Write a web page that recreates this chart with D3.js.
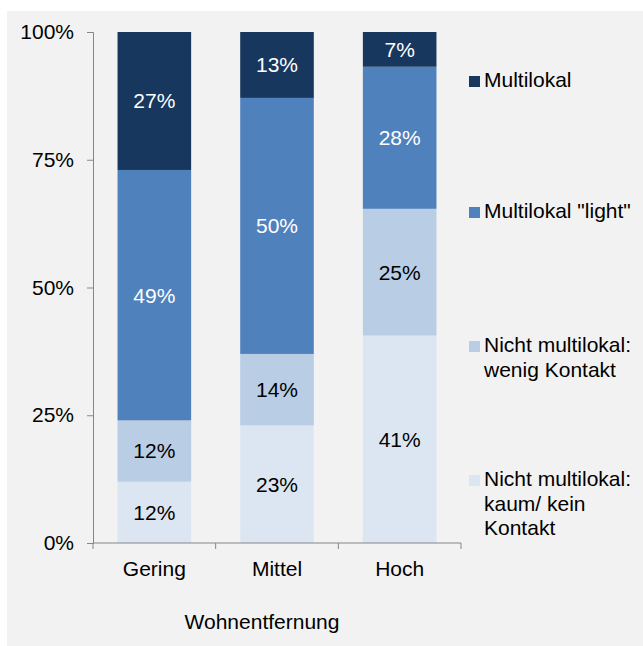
<!DOCTYPE html>
<html>
<head>
<meta charset="utf-8">
<script src="https://cdn.jsdelivr.net/npm/d3@7"></script>
<style>
  html, body { margin: 0; padding: 0; background: #fff; }
  svg { display: block; font-family: "Liberation Sans", Arial, sans-serif; }
</style>
</head>
<body>
<script>
// data (percent of each bar)
const categories = ["Gering", "Mittel", "Hoch"]
const seriesNames = ["Nicht multilokal: kaum/ kein Kontakt", "Nicht multilokal: wenig Kontakt", "Multilokal \"light\"", "Multilokal"]
const kaumKein = [12.0, 23.0, 40.6]
const wenig = [12.0, 14.0, 24.8]
const light = [49.0, 50.1, 27.8]
const multilokal = [27.0, 12.9, 6.8]
const yTicks = [0, 25, 50, 75, 100]
const colors = ["#dce6f2", "#b9cde5", "#4f81bd", "#17375e"]
const labelColors = ["#000", "#000", "#fff", "#fff"]
const legendLines = [
  ["Multilokal"],
  ["Multilokal \"light\""],
  ["Nicht multilokal:", "wenig Kontakt"],
  ["Nicht multilokal:", "kaum/ kein", "Kontakt"]
]
const axisTitle = "Wohnentfernung"

let svgwidth = 643
let svgheight = 646
let fs = 21

let svg = d3.select(document.body)
  .append('svg')
    .attr('width', svgwidth)
    .attr('height', svgheight)

svg.append('rect')
  .attr('x', 7)
  .attr('y', 11)
  .attr('width', svgwidth - 7)
  .attr('height', svgheight - 11)
  .attr('fill', '#f2f2f2')

const rows = categories.map((c, i) => ({
  cat: c, k0: kaumKein[i], k1: wenig[i], k2: light[i], k3: multilokal[i]
}))
const stack = d3.stack().keys(["k0", "k1", "k2", "k3"])(rows)

const x = d3.scaleBand().domain(categories).range([93, 461]).paddingInner(0.4).paddingOuter(0.2)
const y = d3.scaleLinear().domain([0, 100]).range([543, 32])

// bars
svg.append('g')
  .selectAll('g')
  .data(stack)
  .join('g')
    .attr('fill', (d, i) => colors[i])
  .selectAll('rect')
  .data(d => d)
  .join('rect')
    .attr('x', d => x(d.data.cat))
    .attr('width', x.bandwidth())
    .attr('y', d => y(d[1]))
    .attr('height', d => y(d[0]) - y(d[1]))

// segment labels
svg.append('g')
  .attr('font-size', fs)
  .attr('text-anchor', 'middle')
  .selectAll('g')
  .data(stack)
  .join('g')
    .attr('fill', (d, i) => labelColors[i])
  .selectAll('text')
  .data(d => d)
  .join('text')
    .attr('x', d => x(d.data.cat) + x.bandwidth() / 2)
    .attr('y', d => y((d[0] + d[1]) / 2))
    .attr('dy', '0.35em')
    .text(d => Math.round(d[1] - d[0]) + '%')

// y axis
const yAxis = svg.append('g')
  .attr('transform', 'translate(93,0)')
  .call(d3.axisLeft(y).tickValues(yTicks).tickFormat(d => d + '%').tickSize(6).tickPadding(13))
yAxis.selectAll('line, path').attr('stroke', '#868686')
yAxis.selectAll('text').attr('font-size', fs).attr('fill', '#000')
  .attr('font-family', '"Liberation Sans", Arial, sans-serif')

// x axis with ticks on band edges
const xAxis = svg.append('g')
  .attr('transform', 'translate(0,543)')
xAxis.append('line')
  .attr('x1', 93).attr('x2', 461)
  .attr('stroke', '#868686')
const edges = categories.map(c => x(c) - x.step() * x.paddingInner() / 2)
edges.push(461)
xAxis.selectAll('line.tk')
  .data(edges)
  .join('line')
    .attr('class', 'tk')
    .attr('x1', d => d).attr('x2', d => d)
    .attr('y1', 0).attr('y2', 6)
    .attr('stroke', '#868686')
xAxis.selectAll('text')
  .data(categories)
  .join('text')
    .attr('x', d => x(d) + x.bandwidth() / 2)
    .attr('y', 33)
    .attr('text-anchor', 'middle')
    .attr('font-size', fs)
    .text(d => d)

svg.append('text')
  .attr('x', 262)
  .attr('y', 629)
  .attr('text-anchor', 'middle')
  .attr('font-size', fs)
  .text(axisTitle)

// legend (top entry is the top stack)
const legendBase = [87, 218, 352, 486]
const legend = svg.append('g')
  .selectAll('g')
  .data(legendLines)
  .join('g')
    .attr('transform', (d, i) => `translate(469,${legendBase[i]})`)
legend.append('rect')
  .attr('x', 0).attr('y', -11)
  .attr('width', 11).attr('height', 11)
  .attr('fill', (d, i) => colors[3 - i])
legend.append('text')
  .attr('font-size', fs)
  .selectAll('tspan')
  .data(d => d)
  .join('tspan')
    .attr('x', 15)
    .attr('y', (d, i) => i * 24.5)
    .text(d => d)
</script>
</body>
</html>
